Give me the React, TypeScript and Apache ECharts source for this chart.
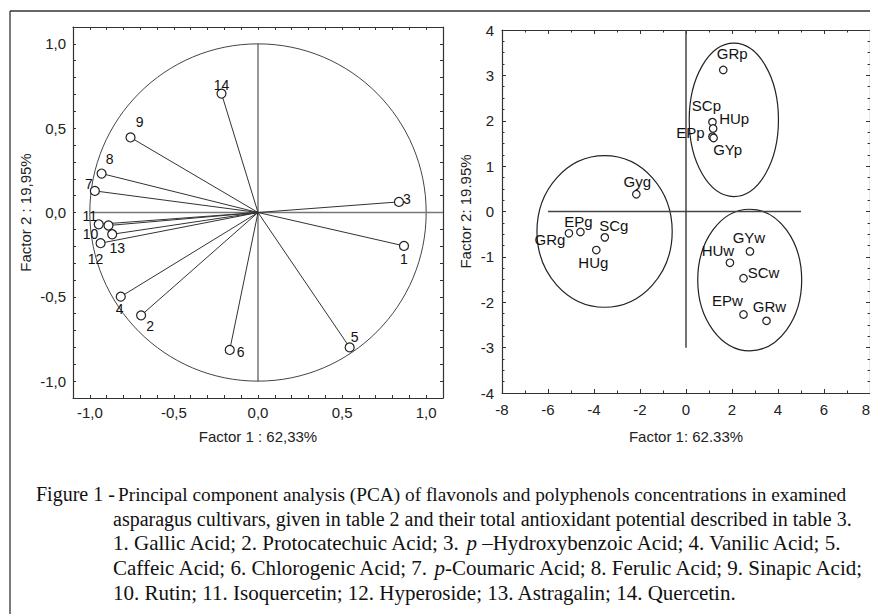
import React, { useEffect, useRef } from 'react';
import * as echarts from 'echarts';

// ---------- Left panel: loadings (variables) ----------
const loadingLabels = ['1', '2', '3', '4', '5', '6', '7', '8', '9', '10', '11', '12', '13', '14'];
const loadingF1 = [0.868, -0.695, 0.838, -0.816, 0.545, -0.168, -0.97, -0.93, -0.758, -0.889, -0.947, -0.936, -0.867, -0.217];
const loadingF2 = [-0.198, -0.61, 0.063, -0.499, -0.8, -0.815, 0.128, 0.231, 0.445, -0.077, -0.07, -0.182, -0.129, 0.705];
const loadingLabelOffsets = [[0, 13], [9, 11], [8, -3], [-1, 12], [5, -10], [11, 2], [-6, -7], [8, -15], [9, -15], [-18, 9], [-9, -8], [-5, 16], [5, 14], [0, -9]];
const unitCircle = [[0, 0, 1]];
const leftHLine = [[-1, 0], [1.1, 0]];
const leftVLine = [[0, 1], [0, -1]];

// ---------- Right panel: scores (cultivars) ----------
const sampleNames = ['GRp', 'SCp', 'HUp', 'EPp', 'GYp', 'Gyg', 'EPg', 'SCg', 'GRg', 'HUg', 'GYw', 'HUw', 'SCw', 'EPw', 'GRw'];
const scoreF1 = [1.62, 1.15, 1.18, 1.15, 1.2, -2.16, -4.59, -3.53, -5.09, -3.9, 2.78, 1.91, 2.5, 2.5, 3.5];
const scoreF2 = [3.12, 1.97, 1.83, 1.65, 1.62, 0.38, -0.45, -0.57, -0.48, -0.85, -0.88, -1.13, -1.47, -2.27, -2.41];
const scoreLabelOffsets = [[9, -16], [-6, -17], [21, -10], [-22, -4], [14, 12], [1, -13], [-2, -10], [9, -12], [-19, 6], [-3, 12], [-1, -14], [-12, -12], [20, -6], [-16, -14], [3, -14]];
const ellipseCx = [2.08, -3.54, 2.77];
const ellipseCy = [2.02, -0.44, -1.51];
const ellipseRx = [1.94, 2.94, 2.26];
const ellipseRy = [1.69, 1.67, 1.56];
const rightHLine = [[-6, 0], [5, 0]];
const rightVLine = [[0, 4], [0, -3]];

// ---------- Caption ----------
const captionHead = 'Figure 1 -';
const captionLines = [
  'Principal component analysis (PCA) of flavonols and polyphenols concentrations in examined',
  'asparagus cultivars, given in table 2 and their total antioxidant potential described in table 3.',
  '1. Gallic Acid; 2. Protocatechuic Acid; 3. {i|p} –Hydroxybenzoic Acid; 4. Vanilic Acid; 5.',
  'Caffeic Acid; 6. Chlorogenic Acid; 7. {i|p}-Coumaric Acid; 8. Ferulic Acid; 9. Sinapic Acid;',
  '10. Rutin; 11. Isoquercetin; 12. Hyperoside; 13. Astragalin; 14. Quercetin.',
];
const captionSizes = [19.3, 20, 21, 21, 21];

const SANS = 'Liberation Sans';
const SERIF = 'Liberation Serif';
const INK = '#222';
const FS = 15;

function commaFmt(v: number) {
  const k = Math.round(v * 10);
  if (k % 5 !== 0) return '';
  const s = (k / 10).toFixed(1).replace('.', ',');
  return s === '-0,0' ? '0,0' : s;
}

function valAxis(extra: any) {
  return {
    type: 'value',
    splitLine: { show: false },
    axisLine: { show: true, onZero: false, lineStyle: { color: '#333', width: 1.2 } },
    axisTick: { show: true, inside: true, length: 4, lineStyle: { color: '#333' } },
    axisLabel: { color: INK, fontSize: FS, fontFamily: SANS },
    nameTextStyle: { color: INK, fontSize: FS, fontFamily: SANS },
    ...extra,
  };
}

export default function App() {
  const ref = useRef<HTMLDivElement>(null);
  useEffect(() => {
    if (!ref.current) return;
    const chart = echarts.init(ref.current, null, { renderer: 'svg' });

    const leftX = { min: -1.1, max: 1.1, interval: 0.1 };
    const rightXr = { min: -8, max: 8, interval: 2 };
    const rightYr = { min: -4, max: 4, interval: 1 };
    const smallTick = { show: true, inside: true, length: 3, lineStyle: { color: '#333' } };

    const option: any = {
      animation: false,
      backgroundColor: '#fff',
      textStyle: { fontFamily: SANS },
      grid: [
        { left: 73, top: 27, width: 370, height: 371 },
        { left: 502, top: 30, width: 368, height: 363 },
      ],
      xAxis: [
        valAxis({
          gridIndex: 0, position: 'bottom', ...leftX,
          axisTick: smallTick,
          axisLabel: { color: INK, fontSize: FS, fontFamily: SANS, margin: 7, formatter: commaFmt },
          name: 'Factor 1 : 62,33%', nameLocation: 'middle', nameGap: 31,
        }),
        valAxis({ gridIndex: 0, position: 'top', ...leftX, axisTick: smallTick, axisLabel: { show: false } }),
        valAxis({
          gridIndex: 1, position: 'bottom', ...rightXr,
          minorTick: { show: true, splitNumber: 2, length: 2.5, lineStyle: { color: '#333' } },
          axisLabel: { color: INK, fontSize: FS, fontFamily: SANS, margin: 9, formatter: (v: number) => String(v), alignMaxLabel: 'right' },
          name: 'Factor 1: 62.33%', nameLocation: 'middle', nameGap: 36,
        }),
        valAxis({
          gridIndex: 1, position: 'top', ...rightXr, axisLabel: { show: false },
          minorTick: { show: true, splitNumber: 2, length: 2.5, lineStyle: { color: '#333' } },
        }),
      ],
      yAxis: [
        valAxis({
          gridIndex: 0, position: 'left', ...leftX,
          axisTick: smallTick,
          axisLabel: { color: INK, fontSize: FS, fontFamily: SANS, margin: 7, formatter: commaFmt },
          name: 'Factor 2 : 19,95%', nameLocation: 'middle', nameGap: 40,
        }),
        valAxis({ gridIndex: 0, position: 'right', ...leftX, axisTick: smallTick, axisLabel: { show: false } }),
        valAxis({
          gridIndex: 1, position: 'left', ...rightYr,
          minorTick: { show: true, splitNumber: 4, length: 2.5, lineStyle: { color: '#333' } },
          axisLabel: { color: INK, fontSize: FS, fontFamily: SANS, margin: 8, formatter: (v: number) => String(v) },
          name: 'Factor 2: 19.95%', nameLocation: 'middle', nameGap: 29,
        }),
        valAxis({
          gridIndex: 1, position: 'right', ...rightYr, axisLabel: { show: false },
          minorTick: { show: true, splitNumber: 4, length: 2.5, lineStyle: { color: '#333' } },
        }),
      ],
      series: [
        // unit circle
        {
          type: 'custom', xAxisIndex: 0, yAxisIndex: 0, silent: true, z: 1,
          encode: { x: 0, y: 1 },
          data: unitCircle,
          renderItem: (params: any, api: any) => {
            const c = api.coord([api.value(0), api.value(1)]);
            const s = api.size([api.value(2), api.value(2)]);
            return { type: 'ellipse', shape: { cx: c[0], cy: c[1], rx: s[0], ry: s[1] }, style: { fill: 'none', stroke: '#444', lineWidth: 1 } };
          },
        },
        {
          type: 'line', xAxisIndex: 0, yAxisIndex: 0, data: leftHLine, symbol: 'none', silent: true, z: 1,
          lineStyle: { color: '#777', width: 1.3 },
        },
        {
          type: 'line', xAxisIndex: 0, yAxisIndex: 0, data: leftVLine, symbol: 'none', silent: true, z: 1,
          lineStyle: { color: '#333', width: 1 },
        },
        // loading vectors
        {
          type: 'custom', xAxisIndex: 0, yAxisIndex: 0, silent: true, z: 2,
          encode: { x: 0, y: 1 },
          data: loadingF1.map((x, i) => [x, loadingF2[i]]),
          renderItem: (params: any, api: any) => {
            const o = api.coord([0, 0]);
            const p = api.coord([api.value(0), api.value(1)]);
            return { type: 'line', shape: { x1: o[0], y1: o[1], x2: p[0], y2: p[1] }, style: { stroke: '#333', lineWidth: 1 } };
          },
        },
        {
          type: 'scatter', xAxisIndex: 0, yAxisIndex: 0, z: 3,
          symbol: 'circle', symbolSize: 9,
          itemStyle: { color: '#fff', borderColor: '#222', borderWidth: 1.2, opacity: 1 },
          label: { show: true, position: 'inside', formatter: '{b}', color: '#111', fontSize: 14, fontFamily: SANS },
          data: loadingF1.map((x, i) => ({
            name: loadingLabels[i], value: [x, loadingF2[i]],
            label: { offset: loadingLabelOffsets[i] },
          })),
        },
        // right panel
        {
          type: 'custom', xAxisIndex: 2, yAxisIndex: 2, silent: true, z: 1,
          encode: { x: 0, y: 1 },
          data: ellipseCx.map((cx, i) => [cx, ellipseCy[i], ellipseRx[i], ellipseRy[i]]),
          renderItem: (params: any, api: any) => {
            const c = api.coord([api.value(0), api.value(1)]);
            const s = api.size([api.value(2), api.value(3)]);
            return { type: 'ellipse', shape: { cx: c[0], cy: c[1], rx: s[0], ry: s[1] }, style: { fill: 'none', stroke: '#222', lineWidth: 1.2 } };
          },
        },
        {
          type: 'line', xAxisIndex: 2, yAxisIndex: 2, data: rightHLine, symbol: 'none', silent: true, z: 1,
          lineStyle: { color: '#444', width: 1.5 },
        },
        {
          type: 'line', xAxisIndex: 2, yAxisIndex: 2, data: rightVLine, symbol: 'none', silent: true, z: 1,
          lineStyle: { color: '#444', width: 1.5 },
        },
        {
          type: 'scatter', xAxisIndex: 2, yAxisIndex: 2, z: 3,
          symbol: 'circle', symbolSize: 7.5,
          itemStyle: { color: '#fff', borderColor: '#222', borderWidth: 1.2, opacity: 1 },
          label: { show: true, position: 'inside', formatter: '{b}', color: '#111', fontSize: 15, fontFamily: SANS },
          data: scoreF1.map((x, i) => ({
            name: sampleNames[i], value: [x, scoreF2[i]],
            label: { offset: scoreLabelOffsets[i] },
          })),
        },
      ],
      graphic: [
        { type: 'line', shape: { x1: 10, y1: 11, x2: 880, y2: 11 }, style: { stroke: '#333', lineWidth: 1.3 } },
        { type: 'line', shape: { x1: 10, y1: 11, x2: 10, y2: 614 }, style: { stroke: '#333', lineWidth: 1.3 } },
        {
          type: 'text', x: 36, y: 494,
          style: { text: captionHead, fontSize: 20, fontFamily: SERIF, fill: '#111', align: 'left', verticalAlign: 'middle' },
        },
        ...captionLines.map((t, i) => ({
          type: 'text', x: i === 0 ? 118 : 113, y: 494 + i * 24.7,
          style: {
            text: t, fontSize: captionSizes[i], fontFamily: SERIF, fill: '#111', align: 'left', verticalAlign: 'middle',
            rich: { i: { fontStyle: 'italic', fontSize: captionSizes[i], fontFamily: SERIF, fill: '#111' } },
          },
        })),
      ],
    };
    chart.setOption(option);
    return () => chart.dispose();
  }, []);

  return (
    <div style={{ position: 'fixed', left: 0, top: 0, width: 870, height: 614, overflow: 'hidden', background: '#fff' }}>
      <div ref={ref} style={{ width: 880, height: 614 }} />
    </div>
  );
}
